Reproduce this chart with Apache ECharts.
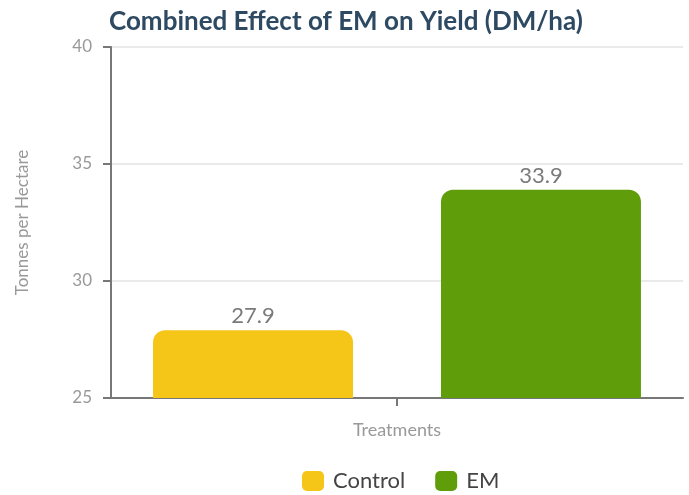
<!DOCTYPE html>
<html>
<head>
<meta charset="utf-8">
<script src="https://cdn.jsdelivr.net/npm/echarts@6/dist/echarts.min.js"></script>
<style>
  html, body { margin: 0; padding: 0; background: #fff; }
  #chart { width: 689px; height: 495px; }
</style>
</head>
<body>
<div id="chart"></div>
<script>
// Yield data (tonnes of dry matter per hectare)
const categories = ['Treatments'];
const seriesNames = ['Control', 'EM'];
const controlValues = [27.9];
const emValues = [33.9];
const seriesColors = ['#f5c518', '#5f9e0a'];
const yTicks = { min: 25, max: 40, interval: 5 };

const chart = echarts.init(document.getElementById('chart'));

const labelStyle = {
  show: true,
  position: 'top',
  distance: 3,
  color: '#7a7a7a',
  fontFamily: 'Lato',
  fontSize: 22
};

chart.setOption({
  animation: false,
  textStyle: { fontFamily: 'Lato' },
  title: {
    text: 'Combined Effect of EM on Yield (DM/ha)',
    left: 104,
    top: 4,
    textStyle: { fontFamily: 'Lato', fontWeight: 'bold', fontSize: 26, color: '#2d4a62' }
  },
  legend: {
    top: 470,
    left: 302,
    padding: 0,
    itemWidth: 22,
    itemHeight: 20,
    itemGap: 30,
    icon: 'roundRect',
    textStyle: { fontFamily: 'Lato', fontSize: 22, color: '#444', padding: [0, 0, 0, 4] },
    data: seriesNames
  },
  grid: { left: 111, right: 6, top: 47, bottom: 97 },
  xAxis: {
    type: 'category',
    data: categories,
    name: 'Treatments',
    nameLocation: 'middle',
    nameGap: 23,
    nameTextStyle: { fontFamily: 'Lato', fontSize: 18, color: '#999' },
    axisLine: { lineStyle: { color: '#777', width: 2 } },
    axisTick: { show: true, alignWithLabel: true, length: 8, lineStyle: { color: '#777', width: 2 } },
    axisLabel: { show: false }
  },
  yAxis: {
    type: 'value',
    min: yTicks.min,
    max: yTicks.max,
    interval: yTicks.interval,
    name: 'Tonnes per Hectare',
    nameLocation: 'middle',
    nameGap: 80,
    nameTextStyle: { fontFamily: 'Lato', fontSize: 17, color: '#999' },
    axisLine: { show: true, lineStyle: { color: '#777', width: 2 } },
    axisTick: { show: true, length: 8, lineStyle: { color: '#777', width: 2 } },
    axisLabel: { fontFamily: 'Lato', fontSize: 17, color: '#999', margin: 19 },
    splitLine: { lineStyle: { color: '#e3e3e3', width: 1.5 } }
  },
  series: [
    {
      name: seriesNames[0],
      type: 'bar',
      data: controlValues,
      barGap: '44%',
      barCategoryGap: '14.7%',
      itemStyle: { color: seriesColors[0], borderRadius: [12, 12, 0, 0] },
      label: labelStyle
    },
    {
      name: seriesNames[1],
      type: 'bar',
      data: emValues,
      barGap: '44%',
      barCategoryGap: '14.7%',
      itemStyle: { color: seriesColors[1], borderRadius: [12, 12, 0, 0] },
      label: labelStyle
    }
  ]
});
</script>
</body>
</html>
